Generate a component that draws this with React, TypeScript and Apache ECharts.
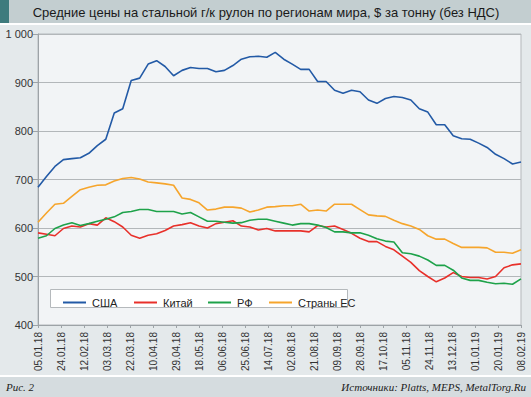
import React, { useEffect, useRef } from "react";
import * as echarts from "echarts";

const START = Date.UTC(2018, 0, 5);
const DAY = 86400000;
const WEEK_COUNT = 58;
const weekDays: number[] = Array.from({ length: WEEK_COUNT }, (_, i) => i * 7);

const seriesNames = ["США", "Китай", "РФ", "Страны ЕС"];
const seriesColors = ["#235aa6", "#e8302a", "#1ea24a", "#f6a52c"];

const usa = [684, 706, 727, 741, 743, 745, 754, 770, 783, 837, 846, 904, 909, 938, 945, 933, 914, 925, 931, 929, 929, 922, 925, 935, 948, 953, 954, 952, 962, 948, 938, 927, 927, 902, 902, 884, 878, 884, 881, 864, 857, 867, 871, 869, 864, 846, 839, 813, 813, 790, 784, 783, 775, 766, 752, 743, 732, 736];
const china = [590, 587, 584, 599, 604, 602, 609, 606, 621, 613, 602, 585, 579, 585, 588, 595, 604, 607, 611, 604, 600, 609, 612, 615, 604, 602, 596, 599, 594, 594, 594, 594, 592, 605, 602, 604, 597, 589, 579, 572, 572, 562, 555, 542, 529, 512, 500, 489, 497, 508, 500, 498, 498, 495, 500, 518, 524, 526];
const russia = [579, 584, 599, 606, 611, 605, 609, 614, 618, 623, 632, 634, 638, 638, 634, 634, 634, 629, 632, 623, 614, 614, 612, 610, 611, 616, 618, 618, 614, 610, 606, 609, 609, 606, 601, 592, 592, 590, 590, 585, 578, 573, 571, 549, 547, 542, 534, 523, 523, 513, 497, 492, 492, 488, 485, 486, 484, 495];
const eu = [612, 631, 649, 651, 665, 679, 684, 688, 689, 697, 702, 704, 701, 695, 693, 691, 688, 662, 659, 652, 637, 639, 643, 643, 641, 633, 637, 643, 644, 646, 646, 649, 635, 637, 635, 649, 649, 649, 638, 627, 625, 624, 616, 609, 604, 597, 584, 577, 577, 568, 560, 560, 560, 559, 550, 550, 548, 555];
const seriesValues = [usa, china, russia, eu];

const yMin = 400;
const yMax = 1000;
const yStep = 100;
const xLabelStepDays = 19;
const xMaxDays = 399;

const titleText = "Средние цены на стальной г/к рулон по регионам мира, $ за тонну (без НДС)";
const figText = "Рис. 2";
const sourceText = "Источники: Platts, MEPS, MetalTorg.Ru";

const legendLefts = [58, 129, 203, 264];

function fmtDate(days: number): string {
  const d = new Date(START + days * DAY);
  const dd = String(d.getUTCDate()).padStart(2, "0");
  const mm = String(d.getUTCMonth() + 1).padStart(2, "0");
  const yy = String(d.getUTCFullYear() % 100).padStart(2, "0");
  return `${dd}.${mm}.${yy}`;
}

export default function App() {
  const ref = useRef<HTMLDivElement>(null);
  useEffect(() => {
    document.body.style.margin = "0";
    if (!ref.current) return;
    const chart = echarts.init(ref.current, undefined, { renderer: "svg" });
    const font = "'Liberation Sans', Arial, sans-serif";
    chart.setOption({
      animation: false,
      backgroundColor: "#e4e9eb",
      textStyle: { fontFamily: font },
      graphic: [
        { type: "rect", shape: { x: 0, y: 0, width: 531, height: 23 }, style: { fill: "#c3ced0" }, z: 0 },
        { type: "rect", shape: { x: 0, y: 0, width: 9, height: 23 }, style: { fill: "#3e7b7d" }, z: 1 },
        { type: "rect", shape: { x: 0, y: 23, width: 531, height: 2 }, style: { fill: "#ffffff" }, z: 1 },
        {
          type: "text", x: 266, y: 12, z: 2,
          style: { text: titleText, fill: "#1a1a1a", font: `13px ${font}`, align: "center", verticalAlign: "middle" },
        },
        { type: "rect", shape: { x: 0, y: 375, width: 531, height: 2 }, style: { fill: "#ffffff" }, z: 1 },
        { type: "rect", shape: { x: 0, y: 377, width: 531, height: 20 }, style: { fill: "#d5dcdf" }, z: 0 },
        {
          type: "text", x: 6, y: 387, z: 2,
          style: { text: figText, fill: "#222", font: `italic 11px 'Liberation Serif', 'DejaVu Serif', serif`, align: "left", verticalAlign: "middle" },
        },
        {
          type: "text", x: 526, y: 387, z: 2,
          style: { text: sourceText, fill: "#222", font: `italic 11px 'Liberation Serif', 'DejaVu Serif', serif`, align: "right", verticalAlign: "middle" },
        },
        {
          type: "rect", shape: { x: 50.5, y: 289.5, width: 297, height: 18 }, z: 5,
          style: { fill: "#ffffff", stroke: "#b5b9bc", lineWidth: 1 },
        },
      ],
      legend: seriesNames.map((n, i) => ({
        data: [n],
        left: legendLefts[i],
        top: 292,
        icon: "rect",
        itemWidth: 23,
        itemHeight: 2,
        itemGap: 6,
        z: 6,
        selectedMode: false,
        textStyle: { fontSize: 11, color: "#222", fontFamily: font, padding: [0, 0, 0, 1] },
      })),
      grid: {
        left: 38, right: 10, top: 34, bottom: 72,
        show: true, backgroundColor: "#f2f4f6", borderColor: "#b5b9bc", borderWidth: 1,
      },
      xAxis: {
        type: "value",
        min: 0,
        max: xMaxDays,
        interval: xLabelStepDays,
        axisLine: { show: true, lineStyle: { color: "#9da3a7" } },
        axisTick: { show: true, length: 3, lineStyle: { color: "#9da3a7" } },
        splitLine: { show: false },
        axisLabel: {
          rotate: 90, fontSize: 10, color: "#333", margin: 7, fontFamily: font,
          showMinLabel: true, showMaxLabel: true,
          formatter: (v: number) => fmtDate(v),
        },
      },
      yAxis: {
        type: "value",
        min: yMin,
        max: yMax,
        interval: yStep,
        axisLine: { show: true, lineStyle: { color: "#9da3a7" } },
        axisTick: { show: true, length: 5, inside: false, lineStyle: { color: "#9da3a7" } },
        splitLine: { show: true, lineStyle: { color: "#b3b7ba", width: 1 } },
        axisLabel: {
          fontSize: 11, color: "#333", margin: 5, fontFamily: font,
          formatter: (v: number) => (v >= 1000 ? "1 000" : String(v)),
        },
      },
      series: seriesNames.map((n, i) => ({
        name: n,
        type: "line",
        data: seriesValues[i].map((v, j) => [weekDays[j], v]),
        showSymbol: false,
        symbol: "none",
        lineStyle: { color: seriesColors[i], width: 1.6 },
        itemStyle: { color: seriesColors[i] },
        z: 3 + (i === 0 ? 1 : 0),
      })),
    });
    return () => chart.dispose();
  }, []);
  return <div ref={ref} style={{ position: "absolute", left: 0, top: 0, width: 531, height: 397 }} />;
}
